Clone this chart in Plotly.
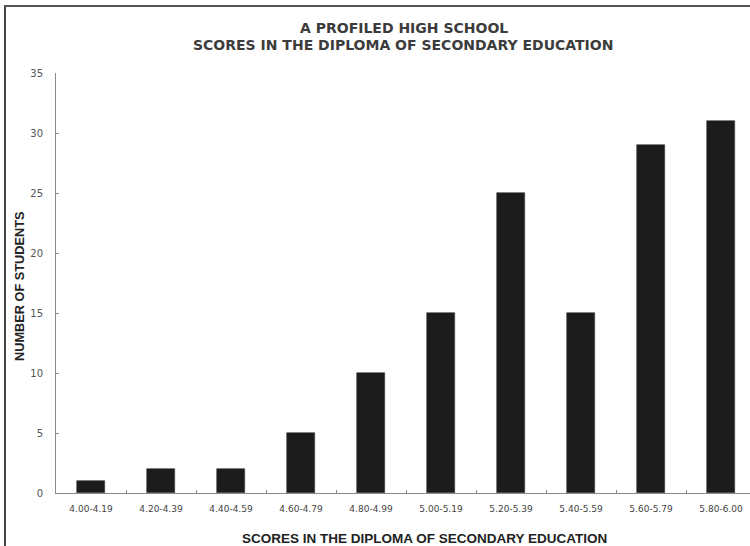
import plotly.graph_objects as go

# Score bands and student counts
score_bands = ["4.00-4.19", "4.20-4.39", "4.40-4.59", "4.60-4.79", "4.80-4.99",
               "5.00-5.19", "5.20-5.39", "5.40-5.59", "5.60-5.79", "5.80-6.00"]
students = [1, 2, 2, 5, 10, 15, 25, 15, 29, 31]
y_ticks = [0, 5, 10, 15, 20, 25, 30, 35]

W, H = 750, 546
L, R, T, B = 56, 0, 73, 53
plot_w = W - L - R
plot_h = H - T - B
band_px = 70  # width of one category band in pixels


def px_x(p):
    return (p - L) / plot_w


def px_y(p):
    return (H - B - p) / plot_h


fig = go.Figure(go.Bar(
    x=score_bands,
    y=students,
    width=0.4,
    marker=dict(color="#1c1c1c", line=dict(color="#3a3a3a", width=0.6)),
))

fig.update_layout(
    width=W, height=H,
    margin=dict(l=L, r=R, t=T, b=B, pad=0),
    paper_bgcolor="white",
    plot_bgcolor="white",
    showlegend=False,
    bargap=0,
    font=dict(family="DejaVu Sans, Verdana, sans-serif", color="#333"),
)

fig.update_xaxes(
    type="category",
    range=[-0.5, -0.5 + plot_w / band_px],
    showline=True, linecolor="#8a8a8a", linewidth=1,
    showgrid=False, zeroline=False,
    ticks="inside", ticklen=3, tickcolor="#8a8a8a",
    tickson="boundaries",
    tickfont=dict(family="DejaVu Sans", size=9, color="#444"),
    ticklabelstandoff=7,
)

fig.update_yaxes(
    range=[0, 35],
    tickvals=y_ticks,
    showline=True, linecolor="#8a8a8a", linewidth=1,
    showgrid=False, zeroline=False,
    ticks="inside", ticklen=3, tickcolor="#8a8a8a",
    tickfont=dict(family="DejaVu Sans", size=10, color="#555"),
    ticklabelstandoff=10,
)

annotations = [
    dict(text="<b>A PROFILED HIGH SCHOOL</b>", x=px_x(404), y=px_y(28),
         font=dict(family="DejaVu Sans", size=14, color="#3c3c3c")),
    dict(text="<b>SCORES IN THE DIPLOMA OF SECONDARY EDUCATION</b>", x=px_x(403), y=px_y(45),
         font=dict(family="DejaVu Sans", size=14, color="#3c3c3c")),
    dict(text="<b>SCORES IN THE DIPLOMA OF SECONDARY EDUCATION</b>", x=px_x(424), y=px_y(538),
         font=dict(family="Liberation Sans", size=13.5, color="#222")),
    dict(text="<b>NUMBER OF STUDENTS</b>", x=px_x(19), y=px_y(287), textangle=-90,
         font=dict(family="Liberation Sans", size=12.75, color="#222")),
]
for a in annotations:
    a.update(xref="paper", yref="paper", showarrow=False,
             xanchor="center", yanchor="middle")
fig.update_layout(annotations=annotations)

# Frame lines along the left and top edges
fig.update_layout(shapes=[
    dict(type="line", xref="paper", yref="paper",
         x0=px_x(5), x1=px_x(5), y0=px_y(5), y1=px_y(H + 2),
         line=dict(color="#444", width=2)),
    dict(type="line", xref="paper", yref="paper",
         x0=px_x(4), x1=px_x(W + 2), y0=px_y(6), y1=px_y(6),
         line=dict(color="#555", width=2)),
])

fig.write_html("out.html")
